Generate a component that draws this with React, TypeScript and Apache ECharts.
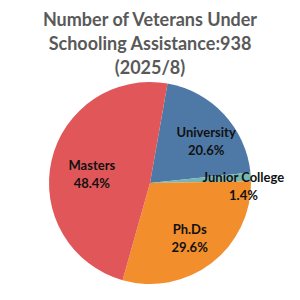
import React, { useEffect, useRef } from "react";
import * as echarts from "echarts";

const categories = ["University", "Junior College", "Ph.Ds", "Masters"];
const values = [193, 13, 278, 454];
const colors = ["#4E79A7", "#76B7B2", "#F28E2B", "#E15759"];
const labelOffsets = [
  [17, -6],
  [40, 6],
  [7, 13],
  [-6, 3],
];
const titleLines = ["Number of Veterans Under", "Schooling Assistance:938", "(2025/8)"];

export default function App() {
  const ref = useRef<HTMLDivElement>(null);
  useEffect(() => {
    if (!ref.current) return;
    const chart = echarts.init(ref.current, null, { renderer: "svg" });
    chart.setOption({
      animation: false,
      backgroundColor: "#ffffff",
      title: {
        text: titleLines.join("\n"),
        left: "center",
        top: 2,
        textStyle: {
          fontFamily: "Lato",
          fontWeight: "bold",
          fontSize: 18,
          color: "#595959",
          lineHeight: 24,
        },
      },
      series: [
        {
          type: "pie",
          center: [150, 183],
          radius: 101,
          startAngle: 80,
          clockwise: true,
          percentPrecision: 1,
          avoidLabelOverlap: false,
          label: {
            show: true,
            position: "inside",
            formatter: "{b}\n{d}%",
            fontFamily: "Lato",
            fontWeight: "bold",
            fontSize: 13,
            lineHeight: 18,
            color: "#111111",
          },
          labelLine: { show: false },
          labelLayout: (p: any) => {
            const o = labelOffsets[p.dataIndex] || [0, 0];
            return { dx: o[0], dy: o[1] };
          },
          itemStyle: { borderWidth: 0 },
          emphasis: { disabled: true },
          data: categories.map((c, i) => ({
            name: c,
            value: values[i],
            itemStyle: { color: colors[i] },
          })),
        },
      ],
    });
    return () => chart.dispose();
  }, []);
  return (
    <div
      ref={ref}
      style={{ position: "fixed", left: 0, top: 0, width: 300, height: 300 }}
    />
  );
}
